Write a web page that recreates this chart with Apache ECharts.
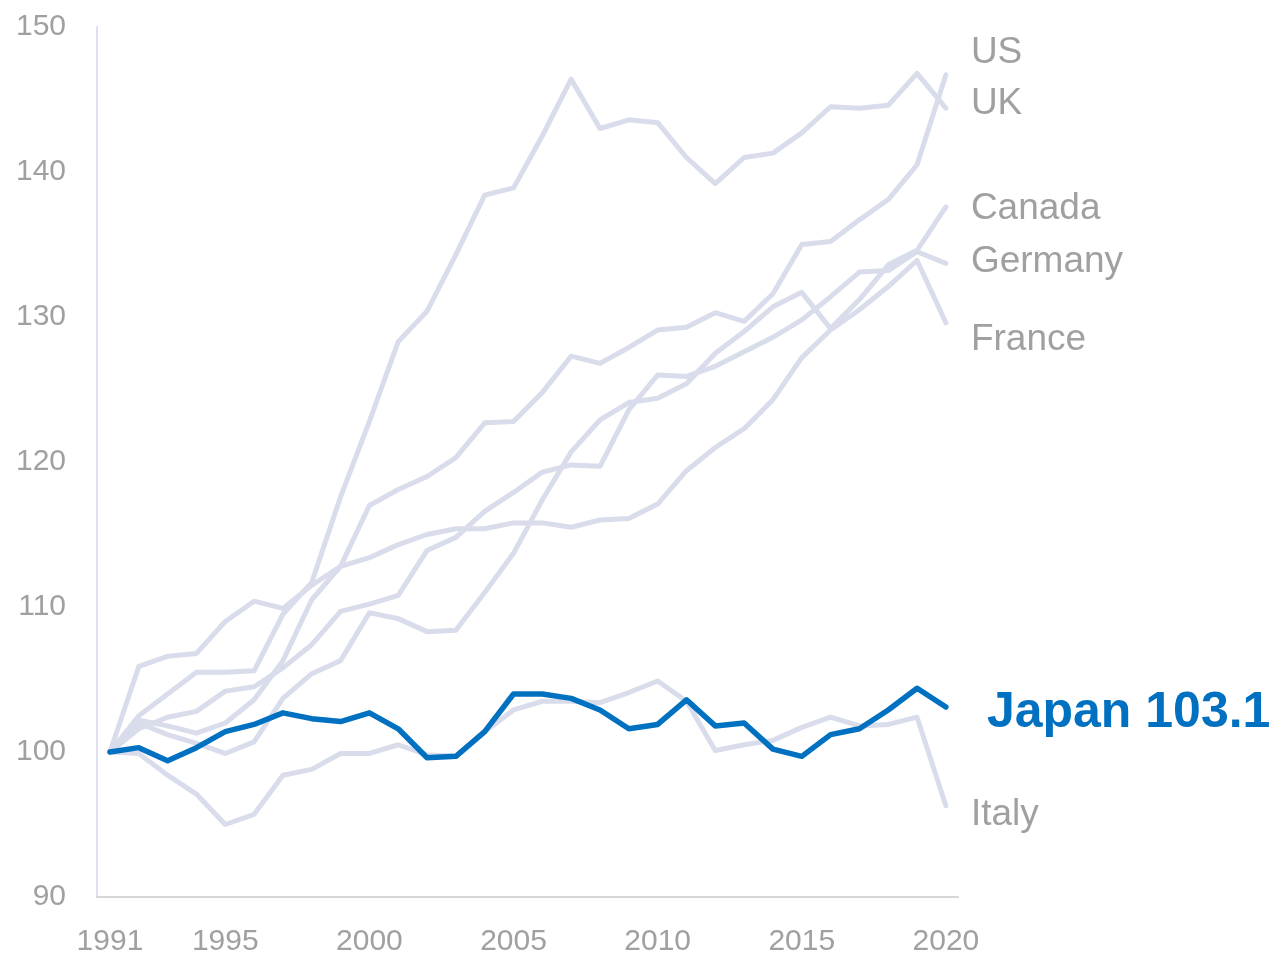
<!DOCTYPE html>
<html>
<head>
<meta charset="utf-8">
<script src="https://cdn.jsdelivr.net/npm/echarts@6/dist/echarts.min.js"></script>
<style>
  html, body { margin: 0; padding: 0; background: #ffffff; }
  #chart { width: 1276px; height: 954px; }
</style>
</head>
<body>
<div id="chart"></div>
<script>
// Index of real average wages, 1991 = 100
const years = [1991, 1992, 1993, 1994, 1995, 1996, 1997, 1998, 1999, 2000,
               2001, 2002, 2003, 2004, 2005, 2006, 2007, 2008, 2009, 2010,
               2011, 2012, 2013, 2014, 2015, 2016, 2017, 2018, 2019, 2020];

const us = [100, 102.2, 101.8, 101.3, 102.0, 103.6, 106.3, 110.5, 112.8, 117.0,
            118.1, 119.0, 120.3, 122.7, 122.8, 124.8, 127.3, 126.8, 127.9, 129.1,
            129.3, 130.3, 129.7, 131.6, 135.0, 135.2, 136.7, 138.1, 140.5, 146.7];
const uk = [100, 102.5, 104.0, 105.5, 105.5, 105.6, 109.5, 111.7, 117.6, 122.8,
            128.3, 130.4, 134.3, 138.4, 138.9, 142.5, 146.4, 143.0, 143.6, 143.4,
            141.0, 139.2, 141.0, 141.3, 142.7, 144.5, 144.4, 144.6, 146.8, 144.4];
const canada = [100, 102.0, 101.2, 100.6, 99.9, 100.7, 103.7, 105.4, 106.3, 109.6,
                109.2, 108.3, 108.4, 111.0, 113.7, 117.4, 120.7, 122.9, 124.1, 124.4,
                125.4, 127.5, 129.0, 130.7, 131.7, 129.2, 131.2, 133.6, 134.6, 137.6];
const germany = [100, 101.6, 102.4, 102.8, 104.2, 104.5, 105.8, 107.4, 109.7, 110.2,
                 110.8, 113.9, 114.8, 116.6, 117.9, 119.3, 119.8, 119.7, 123.6, 126.0,
                 125.9, 126.6, 127.6, 128.6, 129.8, 131.4, 133.1, 133.2, 134.5, 133.7];
const france = [100, 105.9, 106.6, 106.8, 109.0, 110.4, 109.9, 111.5, 112.8, 113.4,
                114.3, 115.0, 115.4, 115.4, 115.8, 115.8, 115.5, 116.0, 116.1, 117.1,
                119.4, 121.0, 122.3, 124.3, 127.2, 129.1, 130.5, 132.1, 133.9, 129.6];
const italy = [100, 99.9, 98.4, 97.1, 95.0, 95.7, 98.4, 98.8, 99.9, 99.9,
               100.5, 99.8, 99.7, 101.4, 102.9, 103.5, 103.5, 103.4, 104.1, 104.9,
               103.5, 100.1, 100.5, 100.8, 101.7, 102.4, 101.8, 101.9, 102.4, 96.3];
const japan = [100, 100.3, 99.4, 100.3, 101.4, 101.9, 102.7, 102.3, 102.1, 102.7,
               101.6, 99.6, 99.7, 101.4, 104.0, 104.0, 103.7, 102.9, 101.6, 101.9,
               103.6, 101.8, 102.0, 100.2, 99.7, 101.2, 101.6, 102.9, 104.4, 103.1];

const xTickLabels = [1991, 1995, 2000, 2005, 2010, 2015, 2020];
const yTicks = [90, 100, 110, 120, 130, 140, 150];

const GREY_LINE = '#d9dcea';
const BLUE = '#0070c0';
const TEXT_GREY = '#a0a0a0';
const FONT = '"Liberation Sans", Arial, Helvetica, sans-serif';

function pairs(values) {
  return years.map((y, i) => [y, values[i]]);
}

// grey comparison series: [name, values, label vertical nudge]
const others = [
  ['US', us, -22],
  ['UK', uk, -4],
  ['Canada', canada, 2],
  ['Germany', germany, -2],
  ['France', france, 17],
  ['Italy', italy, 9]
];

const series = others.map(([name, values, dy]) => ({
  name: name,
  type: 'line',
  data: pairs(values),
  showSymbol: false,
  silent: true,
  lineStyle: { color: GREY_LINE, width: 5, cap: 'round', join: 'round' },
  endLabel: {
    show: true,
    formatter: name,
    color: TEXT_GREY,
    fontFamily: FONT,
    fontSize: 37,
    distance: 0,
    offset: [25, dy]
  },
  labelLayout: { hideOverlap: false },
  z: 2
}));

series.push({
  name: 'Japan',
  type: 'line',
  data: pairs(japan),
  showSymbol: false,
  silent: true,
  lineStyle: { color: BLUE, width: 5.5, cap: 'round', join: 'round' },
  endLabel: {
    show: true,
    formatter: p => 'Japan ' + p.value[1].toFixed(1),
    color: BLUE,
    fontFamily: FONT,
    fontWeight: 'bold',
    fontSize: 50,
    distance: 0,
    offset: [41, 6]
  },
  z: 5
});

const chart = echarts.init(document.getElementById('chart'), null, { renderer: 'canvas' });
chart.setOption({
  animation: false,
  backgroundColor: '#ffffff',
  grid: {
    left: 97, right: 318, top: 27, bottom: 57,
    containLabel: false,
    outerBoundsMode: 'none'
  },
  xAxis: {
    type: 'value',
    min: 1990.55,
    max: 2020.42,
    axisLine: { show: true, lineStyle: { color: '#d6d6d6', width: 2 } },
    axisTick: { show: false },
    splitLine: { show: false },
    axisLabel: {
      customValues: xTickLabels,
      formatter: v => String(v),
      color: TEXT_GREY,
      fontFamily: FONT,
      fontSize: 30,
      margin: 30
    }
  },
  yAxis: {
    type: 'value',
    min: 90,
    max: 150,
    interval: 10,
    axisLine: { show: true, lineStyle: { color: '#dde1f0', width: 2 } },
    axisTick: { show: false },
    splitLine: { show: false },
    axisLabel: {
      customValues: yTicks,
      color: TEXT_GREY,
      fontFamily: FONT,
      fontSize: 30,
      margin: 31,
      padding: [4, 0, 0, 0]
    }
  },
  series: series
});
</script>
</body>
</html>
